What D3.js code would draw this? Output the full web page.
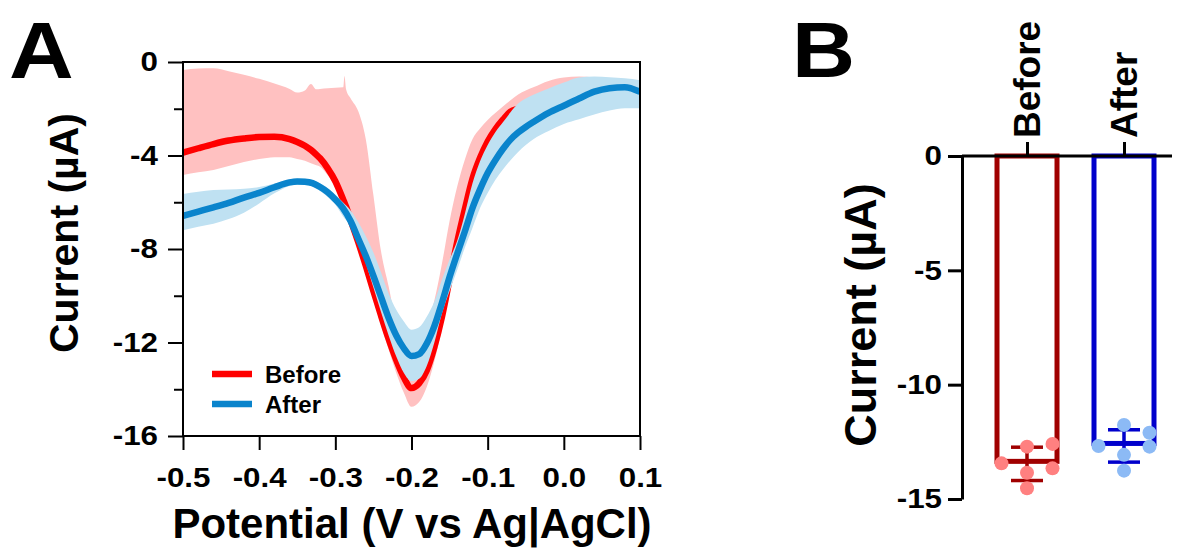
<!DOCTYPE html>
<html>
<head>
<meta charset="utf-8">
<script src="https://cdn.jsdelivr.net/npm/d3@7"></script>
<style>
  body { margin: 0; background: #fff; }
  svg text { font-family: "Liberation Sans", Arial, Helvetica, sans-serif; font-weight: bold; fill: #000; }
</style>
</head>
<body>
<svg id="fig" width="1182" height="548"></svg>
<script>
// ---------------- Panel A: square-wave voltammograms (mean ± SD) ----------------
const potentialTicks = [-0.5, -0.4, -0.3, -0.2, -0.1, 0.0, 0.1];
const currentTicksA = [0, -4, -8, -12, -16];
const currentMinorA = [-2, -6, -10, -14];

// "Before" trace (µA vs V)
const potentialBefore = [-0.50, -0.48, -0.46, -0.44, -0.42, -0.40, -0.38, -0.36, -0.35, -0.34,
  -0.332, -0.325, -0.32, -0.31, -0.30, -0.2895, -0.288, -0.286, -0.28, -0.27,
  -0.26, -0.25, -0.24, -0.23, -0.22, -0.21, -0.20, -0.19, -0.18, -0.17,
  -0.16, -0.15, -0.14, -0.13, -0.12, -0.11, -0.10, -0.09, -0.08, -0.07,
  -0.06, -0.05, -0.04, -0.02, 0.00, 0.02, 0.04, 0.06, 0.08, 0.10];
const beforeMean = [-3.88, -3.69, -3.51, -3.36, -3.27, -3.21, -3.20, -3.30, -3.42, -3.58,
  -3.76, -3.96, -4.12, -4.55, -5.10, -5.90, -6.02, -6.18, -6.75, -7.70,
  -8.72, -9.80, -10.85, -11.85, -12.75, -13.50, -13.95, -13.75, -13.20, -12.20,
  -10.90, -9.30, -7.70, -6.30, -5.00, -4.10, -3.40, -2.88, -2.47, -2.12,
  -2.00, -1.90, -1.82, -1.70, -1.60, -1.50, -1.42, -1.40, -1.42, -1.50];
const beforeUpper = [-0.34, -0.28, -0.27, -0.40, -0.55, -0.72, -0.92, -1.15, -1.31, -1.22,
  -0.94, -1.17, -1.15, -1.12, -1.10, -1.08, -0.60, -1.15, -1.55, -2.10,
  -3.30, -5.70, -8.10, -9.60, -11.10, -11.60, -11.70, -11.60, -11.30, -10.20,
  -8.62, -6.80, -5.33, -4.18, -3.30, -2.85, -2.48, -2.18, -1.90, -1.64,
  -1.39, -1.22, -1.08, -0.81, -0.66, -0.62, -0.66, -0.72, -0.78, -0.86];
const beforeLower = [-4.83, -4.72, -4.62, -4.45, -4.28, -4.15, -4.07, -4.08, -4.15, -4.22,
  -4.33, -4.42, -4.48, -4.85, -5.35, -6.10, -6.22, -6.40, -7.05, -8.00,
  -9.05, -10.15, -11.25, -12.30, -13.30, -14.15, -14.75, -14.55, -13.90, -12.80,
  -11.40, -9.75, -8.10, -6.70, -5.35, -4.45, -3.75, -3.20, -2.80, -2.50,
  -2.30, -2.20, -2.10, -1.95, -1.85, -1.80, -1.75, -1.70, -1.70, -1.75];

// "After" trace
const potentialAfter = [-0.50, -0.48, -0.46, -0.44, -0.42, -0.40, -0.38, -0.36, -0.35, -0.34,
  -0.33, -0.32, -0.31, -0.30, -0.29, -0.28, -0.27, -0.26, -0.25, -0.24,
  -0.23, -0.22, -0.21, -0.20, -0.19, -0.18, -0.17, -0.16, -0.15, -0.14,
  -0.13, -0.12, -0.11, -0.10, -0.09, -0.08, -0.07, -0.06, -0.05, -0.04,
  -0.02, 0.00, 0.02, 0.04, 0.06, 0.08, 0.10];
const afterMean = [-6.58, -6.40, -6.22, -6.03, -5.80, -5.60, -5.36, -5.15, -5.11, -5.12,
  -5.18, -5.35, -5.57, -5.88, -6.25, -6.80, -7.55, -8.30, -9.15, -10.05,
  -10.95, -11.70, -12.25, -12.58, -12.50, -12.05, -11.30, -10.30, -9.20, -8.20,
  -7.25, -6.25, -5.45, -4.75, -4.20, -3.72, -3.32, -3.02, -2.78, -2.57,
  -2.18, -1.87, -1.56, -1.27, -1.12, -1.08, -1.28];
const afterUpper = [-5.65, -5.55, -5.48, -5.45, -5.42, -5.35, -5.20, -5.02, -4.98, -4.99,
  -5.05, -5.20, -5.40, -5.68, -6.00, -6.35, -6.85, -7.45, -8.15, -9.00,
  -9.90, -10.60, -11.10, -11.45, -11.35, -10.90, -10.25, -9.30, -8.45, -7.65,
  -6.50, -5.20, -4.25, -3.55, -3.00, -2.58, -2.15, -1.78, -1.56, -1.40,
  -1.13, -0.88, -0.66, -0.62, -0.65, -0.70, -0.78];
const afterLower = [-7.20, -7.05, -6.92, -6.72, -6.45, -6.05, -5.62, -5.30, -5.25, -5.26,
  -5.33, -5.52, -5.78, -6.10, -6.60, -7.00, -7.60, -8.60, -9.65, -10.70,
  -11.70, -12.60, -13.30, -13.65, -13.55, -13.00, -12.00, -10.75, -9.80, -8.90,
  -7.95, -7.10, -6.25, -5.60, -5.05, -4.60, -4.20, -3.85, -3.55, -3.30,
  -2.95, -2.65, -2.45, -2.25, -2.08, -1.98, -1.98];

// ---------------- Panel B: peak currents per electrode ----------------
const groups = ["Before", "After"];
const currentTicksB = [0, -5, -10, -15];
const peakBefore = [-12.71, -13.85, -14.53, -12.59, -13.44, -13.66];
const peakAfter = [-11.76, -13.07, -13.76, -12.10, -12.68, -12.71];

const C = {
  pink: "#ffc1c1", red: "#ff0000",
  paleBlue: "#bfe1f2", blue: "#0a84cc",
  barBefore: "#a00000", barAfter: "#0000cc",
  dotBefore: "#ff8080", dotAfter: "#8cbaf5"
};
const labelStretch = 1.12;   // tick labels are set slightly wide

const svg = d3.select("#fig");

function styleAxis(g, size, width) {
  g.selectAll(".tick line").attr("stroke", "#000").attr("stroke-width", width);
  g.selectAll(".domain").attr("stroke", "#000").attr("stroke-width", width);
  g.selectAll("text").attr("font-size", size).attr("fill", "#000")
    .attr("x", function () { return (+this.getAttribute("x") || 0) / labelStretch; })
    .attr("transform", `scale(${labelStretch},1)`);
}

// ===== Panel A =====
const xA = d3.scaleLinear().domain([-0.5, 0.1]).range([183, 640]);
const yA = d3.scaleLinear().domain([0, -16]).range([62, 436]);

const rowsBefore = potentialBefore.map((v, i) => ({ v, m: beforeMean[i], lo: beforeLower[i], hi: beforeUpper[i] }));
const rowsAfter = potentialAfter.map((v, i) => ({ v, m: afterMean[i], lo: afterLower[i], hi: afterUpper[i] }));

const band = d3.area().curve(d3.curveMonotoneX)
  .x(d => xA(d.v)).y0(d => yA(d.lo)).y1(d => yA(d.hi));
const trace = d3.line().curve(d3.curveMonotoneX)
  .x(d => xA(d.v)).y(d => yA(d.m));

svg.append("clipPath").attr("id", "plotA").append("rect")
  .attr("x", xA.range()[0]).attr("y", yA.range()[0])
  .attr("width", xA.range()[1] - xA.range()[0]).attr("height", yA.range()[1] - yA.range()[0]);

// drawing order: Before band, Before trace, After band, After trace
const plotA = svg.append("g").attr("clip-path", "url(#plotA)");
plotA.append("path").datum(rowsBefore).attr("d", band).attr("fill", C.pink);
plotA.append("path").datum(rowsBefore).attr("d", trace)
  .attr("fill", "none").attr("stroke", C.red).attr("stroke-width", 6.5).attr("stroke-linejoin", "round");
plotA.append("path").datum(rowsAfter).attr("d", band).attr("fill", C.paleBlue);
plotA.append("path").datum(rowsAfter).attr("d", trace)
  .attr("fill", "none").attr("stroke", C.blue).attr("stroke-width", 6.5).attr("stroke-linejoin", "round");

// frame
svg.append("rect")
  .attr("x", xA.range()[0]).attr("y", yA.range()[0])
  .attr("width", xA.range()[1] - xA.range()[0]).attr("height", yA.range()[1] - yA.range()[0])
  .attr("fill", "none").attr("stroke", "#000").attr("stroke-width", 2);

svg.append("g").attr("transform", `translate(${xA.range()[0]},0)`)
  .call(d3.axisLeft(yA).tickValues(currentTicksA).tickSize(15).tickPadding(10).tickFormat(d => String(d)))
  .call(g => g.select(".domain").remove())
  .call(g => styleAxis(g, 28, 2));
svg.append("g").attr("transform", `translate(${xA.range()[0]},0)`)
  .call(d3.axisLeft(yA).tickValues(currentMinorA).tickSize(9).tickFormat(""))
  .call(g => g.select(".domain").remove())
  .call(g => styleAxis(g, 28, 2));
svg.append("g").attr("transform", `translate(0,${yA.range()[1]})`)
  .call(d3.axisBottom(xA).tickValues(potentialTicks).tickSize(14).tickPadding(17).tickFormat(d => d.toFixed(1)))
  .call(g => g.select(".domain").remove())
  .call(g => styleAxis(g, 28, 2));

svg.append("text").attr("x", 412).attr("y", 538).attr("text-anchor", "middle")
  .attr("font-size", 42).text("Potential (V vs Ag|AgCl)");
svg.append("text").attr("transform", "translate(63,233) rotate(-90)")
  .attr("text-anchor", "middle").attr("dy", "0.36em")
  .attr("font-size", 41).text("Current (\u00B5A)");

// legend
const legend = svg.append("g");
[["Before", C.red, 374], ["After", C.blue, 404]].forEach(([label, color, ly]) => {
  legend.append("line").attr("x1", 212).attr("x2", 252).attr("y1", ly).attr("y2", ly)
    .attr("stroke", color).attr("stroke-width", 6.5);
  legend.append("text").attr("x", 265).attr("y", ly + 8.5).attr("font-size", 24).text(label);
});

svg.append("text").attr("transform", "translate(9,78) scale(1.12,1)").attr("font-size", 80).text("A");

// ===== Panel B =====
const yB = d3.scaleLinear().domain([0, -15]).range([156, 499]);
const xB = d3.scalePoint().domain(groups).range([1027, 1124]);
const axisLeftX = 962, axisRightX = 1172;
const barW = 65, barStroke = 5, dotR = 7, sideStep = 25.5, capHalf = 16;

const sets = [
  { name: "Before", values: peakBefore, bar: C.barBefore, dot: C.dotBefore },
  { name: "After", values: peakAfter, bar: C.barAfter, dot: C.dotAfter }
];

// place replicate dots: centre column first, otherwise the emptier side column
function swarm(values, cx) {
  const placed = [];
  values.forEach(v => {
    const py = yB(v);
    const near = col => placed.filter(p => p.col === col).map(p => Math.abs(p.py - py));
    const nearC = near(0);
    let col = 0;
    if (nearC.length && d3.min(nearC) < 2 * dotR) {
      const l = near(-1), r = near(1);
      const dl = l.length ? d3.min(l) : Infinity;
      const dr = r.length ? d3.min(r) : Infinity;
      col = dl > dr ? -1 : 1;
    }
    placed.push({ v, py, col, px: cx + col * sideStep });
  });
  return placed;
}

sets.forEach(s => {
  const cx = xB(s.name);
  const mean = d3.mean(s.values);
  const sd = d3.deviation(s.values);
  // bar outline drawn inside its extent
  svg.append("rect")
    .attr("x", cx - barW / 2 + barStroke / 2)
    .attr("y", yB(0))
    .attr("width", barW - barStroke)
    .attr("height", yB(mean) - yB(0) - barStroke / 2)
    .attr("fill", "none").attr("stroke", s.bar).attr("stroke-width", barStroke);
  // error bar (mean ± SD)
  const eb = svg.append("g").attr("stroke", s.bar).attr("stroke-width", 3.5);
  eb.append("line").attr("x1", cx).attr("x2", cx).attr("y1", yB(mean + sd)).attr("y2", yB(mean - sd));
  [mean + sd, mean - sd].forEach(e => {
    eb.append("line").attr("x1", cx - capHalf).attr("x2", cx + capHalf).attr("y1", yB(e)).attr("y2", yB(e));
  });
});

sets.forEach(s => {
  svg.append("g").selectAll("circle").data(swarm(s.values, xB(s.name))).join("circle")
    .attr("cx", d => d.px).attr("cy", d => d.py).attr("r", dotR).attr("fill", s.dot);
});

// axes of panel B
svg.append("g").attr("transform", `translate(${axisLeftX},0)`)
  .call(d3.axisLeft(yB).tickValues(currentTicksB).tickSize(14).tickSizeOuter(0).tickPadding(6).tickFormat(d => String(d)))
  .call(g => styleAxis(g, 28, 3));
svg.append("line").attr("x1", axisLeftX).attr("x2", axisRightX).attr("y1", yB(0)).attr("y2", yB(0))
  .attr("stroke", "#000").attr("stroke-width", 3);
svg.append("g").attr("transform", `translate(0,${yB(0)})`)
  .call(d3.axisTop(xB).tickSize(14).tickFormat(""))
  .call(g => g.select(".domain").remove())
  .call(g => styleAxis(g, 28, 3));

groups.forEach(gname => {
  svg.append("text").attr("transform", `translate(${xB(gname) + 13},138) rotate(-90)`)
    .attr("text-anchor", "start").attr("font-size", 37).text(gname);
});

svg.append("text").attr("transform", "translate(860,315) rotate(-90)")
  .attr("text-anchor", "middle").attr("dy", "0.36em")
  .attr("font-size", 45).text("Current (\u00B5A)");

svg.append("text").attr("transform", "translate(792,77) scale(1.12,1)").attr("font-size", 78).text("B");
</script>
</body>
</html>
